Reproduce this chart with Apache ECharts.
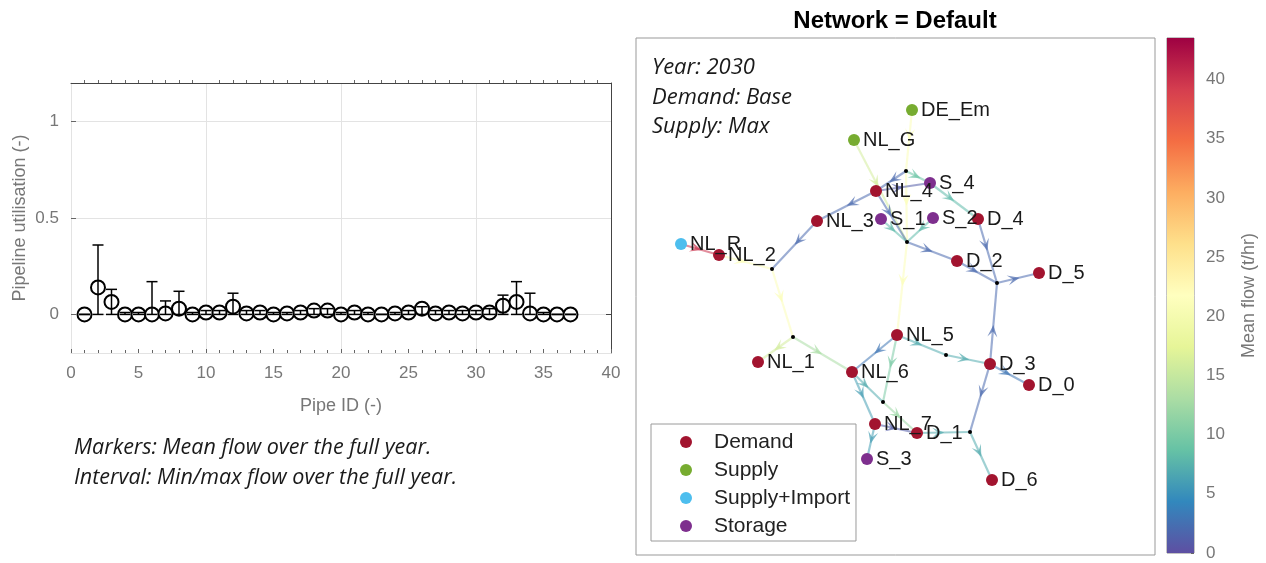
<!DOCTYPE html>
<html>
<head>
<meta charset="utf-8">
<script src="https://cdn.jsdelivr.net/npm/echarts@6/dist/echarts.min.js"></script>
<style>
  html, body { margin: 0; padding: 0; background: #fff; }
  #main { width: 1266px; height: 563px; }
</style>
</head>
<body>
<div id="main"></div>
<script>
// ---- left panel: pipeline utilisation per pipe
var pipeIds  = [1,2,3,4,5,6,7,8,9,10,11,12,13,14,15,16,17,18,19,20,21,22,23,24,25,26,27,28,29,30,31,32,33,34,35,36,37];
var meanUtil = [0,0.14,0.065,0,0,0,0.005,0.03,0,0.01,0.01,0.04,0.005,0.01,0,0.005,0.01,0.02,0.02,0,0.01,0,0,0.005,0.01,0.03,0.005,0.01,0.005,0.01,0.01,0.045,0.065,0.005,0,0,0];
var minUtil  = [0,0,0,0,0,0,0,0,0,0,0,0,0,0,0,0,0,0,0,0,0,0,0,0,0,0,0,0,0,0,0,0,0,0,0,0,0];
var maxUtil  = [0,0.36,0.13,0.01,0.01,0.17,0.07,0.12,0.01,0.02,0.02,0.11,0.02,0.02,0.01,0.01,0.02,0.03,0.03,0.01,0.02,0.01,0,0.01,0.02,0.04,0.02,0.02,0.02,0.02,0.03,0.1,0.17,0.11,0.01,0,0];

// ---- right panel: network (layout units)
var nodeNames = ['DE_Em','NL_G','NL_4','S_4','NL_3','S_1','S_2','D_4','NL_R','NL_2','D_2','D_5','NL_5','D_3','NL_1','NL_6','D_0','NL_7','D_1','S_3','D_6',
                 'J1','J2','J3','J4','J5','J6','J7','J8'];
var nodeType  = ['Supply','Supply','Demand','Storage','Demand','Storage','Storage','Demand','Supply+Import','Demand','Demand','Demand','Demand','Demand','Demand','Demand','Demand','Demand','Demand','Storage','Demand',
                 'Junction','Junction','Junction','Junction','Junction','Junction','Junction','Junction'];
var nodeX = [27.6,21.8,24.0,29.4,18.1,24.5,29.7,34.2,4.5,8.3,32.1,40.3,26.1,35.4,12.2,21.6,39.3,23.9,28.1,23.1,35.6, 27.0,27.1,13.6,36.1,15.7,31.0,24.7,33.4];
var nodeY = [44.5,41.5,36.4,37.2,33.4,33.6,33.7,33.6,31.1,30.0,29.4,28.2,22.0,19.1,19.3,18.3,17.0,13.1,12.2,9.6,7.5, 38.4,31.3,28.6,27.2,21.8,20.0,15.3,12.3];

var edgeFrom = ['DE_Em','J1','NL_G','J1','J1','NL_4','NL_4','NL_4','S_1','S_2','S_4','D_4','J2','D_2','J4','D_3','D_3','D_3','J8','D_1','NL_5','J6','NL_5','NL_5','J7','NL_6','NL_6','NL_7','NL_7','J2','NL_R','NL_2','NL_3','J3','J5','J5'];
var edgeTo   = ['J1','J2','J2','S_4','NL_4','NL_3','S_4','J2','J2','J2','D_4','J4','D_2','J4','D_5','J4','D_0','J8','D_6','J8','J6','D_3','NL_6','J7','D_1','NL_7','J7','S_3','D_1','NL_5','NL_2','J3','J3','J5','NL_1','NL_6'];
var edgeFlow = [21,21,16,9,2,2,1,2,8,8,8,2,2,2,2,2,3,2,7,7,7,7,3,10,12,6,7,6,1,21,40,21,2,21,16,13];

var typeNames  = ['Demand','Supply','Supply+Import','Storage'];
var typeColors = ['#a2142f','#77ac30','#4dbeee','#7e2f8e'];
var flowColors = ['#5e4fa2','#3288bd','#66c2a5','#abdda4','#e6f598','#ffffbf','#fee08b','#fdae61','#f46d43','#d53e4f','#9e0142'];
var flowMax = 43.5;

var chart = echarts.init(document.getElementById('main'));

var labelFont = 'Liberation Sans';
var gridGray = '#e3e3e3';

function nodeIndex(name) { return nodeNames.indexOf(name); }

var edgeData = edgeFrom.map(function (f, i) {
  var a = nodeIndex(f), b = nodeIndex(edgeTo[i]);
  return [nodeX[a], nodeY[a], nodeX[b], nodeY[b], edgeFlow[i]];
});

var nodeSeries = typeNames.map(function (t, k) {
  var pts = [];
  nodeNames.forEach(function (n, i) {
    if (nodeType[i] === t) pts.push({ name: n, value: [nodeX[i], nodeY[i]] });
  });
  return {
    name: t, type: 'scatter', xAxisIndex: 2, yAxisIndex: 2,
    symbol: 'circle', symbolSize: 12, z: 5,
    itemStyle: { color: typeColors[k], opacity: 1 },
    label: { show: true, position: 'right', distance: 3, formatter: '{b}',
             fontFamily: labelFont, fontSize: 20, color: '#1a1a1a' },
    data: pts
  };
});

var junctionPts = [];
nodeNames.forEach(function (n, i) {
  if (nodeType[i] === 'Junction') junctionPts.push([nodeX[i], nodeY[i]]);
});

var stops = flowColors.map(function (c, i) {
  return { offset: i / (flowColors.length - 1), color: c };
});

var option = {
  animation: false,
  backgroundColor: '#fff',
  legend: {
    data: typeNames, orient: 'vertical', left: 651, top: 424,
    icon: 'circle', itemWidth: 46, itemHeight: 12, itemGap: 4,
    padding: [6, 6, 3, 29],
    borderColor: '#9a9a9a', borderWidth: 1, backgroundColor: '#fff',
    textStyle: { fontFamily: labelFont, fontSize: 21, color: '#222', lineHeight: 24 }
  },
  visualMap: {
    show: false, type: 'continuous', min: 0, max: flowMax, dimension: 4,
    seriesIndex: 2, inRange: { color: flowColors }
  },
  grid: [
    { left: 71, top: 83, width: 540, height: 270 },
    { left: 636, top: 38, width: 519, height: 517, show: true, borderColor: '#999', borderWidth: 1 },
    { left: 1167, top: 38, width: 27, height: 515, show: true, borderColor: '#888', borderWidth: 1 }
  ],
  xAxis: [
    { gridIndex: 0, type: 'value', min: 0, max: 40, interval: 5, position: 'bottom',
      axisLine: { onZero: false, lineStyle: { color: gridGray } },
      axisTick: { inside: true, length: 4, lineStyle: { color: '#666' } },
      minorTick: { show: true, splitNumber: 5, length: 3, lineStyle: { color: '#666' } },
      axisLabel: { color: '#777', fontFamily: labelFont, fontSize: 17, margin: 12 },
      splitLine: { show: false },
      name: 'Pipe ID (-)', nameLocation: 'middle', nameGap: 44,
      nameTextStyle: { color: '#777', fontFamily: labelFont, fontSize: 18 } },
    { gridIndex: 0, type: 'value', min: 0, max: 40, interval: 10, position: 'top',
      axisLine: { onZero: false, lineStyle: { color: '#444' } },
      axisTick: { show: false },
      minorTick: { show: true, splitNumber: 10, length: 3, lineStyle: { color: '#666' } },
      axisLabel: { show: false },
      splitLine: { show: true, lineStyle: { color: gridGray } } },
    { gridIndex: 1, type: 'value', min: 0, max: 51.9, show: false },
    { gridIndex: 2, type: 'category', data: ['c'], show: false }
  ],
  yAxis: [
    { gridIndex: 0, type: 'value', min: -0.2, max: 1.2,
      axisLine: { show: true, onZero: false, lineStyle: { color: gridGray } },
      axisTick: { show: true, inside: true, length: 5, customValues: [0, 0.5, 1], lineStyle: { color: '#666' } },
      axisLabel: { customValues: [0, 0.5, 1], color: '#777', fontFamily: labelFont, fontSize: 17, margin: 12 },
      splitLine: { show: true, lineStyle: { color: gridGray } },
      name: 'Pipeline utilisation (-)', nameLocation: 'middle', nameGap: 42, nameRotate: 90,
      nameTextStyle: { color: '#777', fontFamily: labelFont, fontSize: 18 } },
    { gridIndex: 0, type: 'value', min: -0.2, max: 1.2, position: 'right',
      axisLine: { show: true, onZero: false, lineStyle: { color: '#444' } },
      axisTick: { show: true, inside: true, length: 5, customValues: [0], lineStyle: { color: '#444' } },
      axisLabel: { show: false }, splitLine: { show: false } },
    { gridIndex: 1, type: 'value', min: 0, max: 51.7, show: false },
    { gridIndex: 2, type: 'value', min: 0, max: flowMax, interval: 5, position: 'right',
      axisLine: { show: false },
      axisTick: { show: true, inside: true, length: 3, lineStyle: { color: '#666' } },
      axisLabel: { color: '#777', fontFamily: labelFont, fontSize: 17, margin: 12, showMaxLabel: false },
      splitLine: { show: false },
      name: 'Mean flow (t/hr)', nameLocation: 'middle', nameGap: 46, nameRotate: 90,
      nameTextStyle: { color: '#777', fontFamily: labelFont, fontSize: 18 } }
  ],
  series: [
    { type: 'scatter', xAxisIndex: 0, yAxisIndex: 0, symbol: 'emptyCircle', symbolSize: 14, z: 2,
      itemStyle: { color: '#000', borderWidth: 1.5, opacity: 1 },
      data: pipeIds.map(function (p, i) { return [p, meanUtil[i]]; }) },
    { type: 'custom', xAxisIndex: 0, yAxisIndex: 0, z: 3,
      encode: { x: 0, y: [1, 2] },
      data: pipeIds.map(function (p, i) { return [p, minUtil[i], maxUtil[i]]; }),
      renderItem: function (params, api) {
        var lo = api.coord([api.value(0), api.value(1)]);
        var hi = api.coord([api.value(0), api.value(2)]);
        var w = 5.5, st = { stroke: '#000', lineWidth: 1.5 };
        return { type: 'group', children: [
          { type: 'line', shape: { x1: lo[0], y1: lo[1], x2: hi[0], y2: hi[1] }, style: st },
          { type: 'line', shape: { x1: lo[0] - w, y1: lo[1], x2: lo[0] + w, y2: lo[1] }, style: st },
          { type: 'line', shape: { x1: hi[0] - w, y1: hi[1], x2: hi[0] + w, y2: hi[1] }, style: st }
        ] };
      } },
    { type: 'custom', xAxisIndex: 2, yAxisIndex: 2, z: 1,
      encode: { x: [0, 2], y: [1, 3] },
      data: edgeData,
      renderItem: function (params, api) {
        var p1 = api.coord([api.value(0), api.value(1)]);
        var p2 = api.coord([api.value(2), api.value(3)]);
        var c = api.visual('color');
        var dx = p2[0] - p1[0], dy = p2[1] - p1[1];
        var len = Math.sqrt(dx * dx + dy * dy);
        var ux = dx / len, uy = dy / len;
        var t = 0.42, L = 12, W = 5;
        var tip = [p1[0] + dx * t + ux * 5, p1[1] + dy * t + uy * 5];
        var back = [tip[0] - ux * L, tip[1] - uy * L];
        var notch = [tip[0] - ux * L * 0.55, tip[1] - uy * L * 0.55];
        var left = [back[0] - uy * W, back[1] + ux * W];
        var right = [back[0] + uy * W, back[1] - ux * W];
        return { type: 'group', children: [
          { type: 'line', shape: { x1: p1[0], y1: p1[1], x2: p2[0], y2: p2[1] },
            style: { stroke: c, lineWidth: 2.2, opacity: 0.55 } },
          { type: 'polygon', shape: { points: [tip, left, notch, right] },
            style: { fill: c, opacity: 0.7 } }
        ] };
      } }
  ].concat(nodeSeries).concat([
    { type: 'scatter', xAxisIndex: 2, yAxisIndex: 2, symbol: 'circle', symbolSize: 4, z: 4,
      itemStyle: { color: '#000', opacity: 1 }, data: junctionPts },
    { type: 'bar', xAxisIndex: 3, yAxisIndex: 3, barWidth: '100%', silent: true,
      itemStyle: { color: new echarts.graphic.LinearGradient(0, 1, 0, 0, stops) },
      data: [flowMax] }
  ]),
  graphic: [
    { type: 'text', x: 895, y: 21, style: { text: 'Network = Default', align: 'center', verticalAlign: 'middle',
      fontFamily: labelFont, fontWeight: 'bold', fontSize: 24, fill: '#000' } },
    { type: 'text', left: 652, top: 53, style: { text: 'Year: 2030\nDemand: Base\nSupply: Max', lineHeight: 29.5,
      fontFamily: 'Open Sans', fontStyle: 'italic', fontSize: 22, fill: '#1a1a1a' } },
    { type: 'text', left: 74, top: 433, style: { text: 'Markers: Mean flow over the full year.\nInterval: Min/max flow over the full year.', lineHeight: 30,
      fontFamily: 'Open Sans', fontStyle: 'italic', fontSize: 21.5, fill: '#1a1a1a' } }
  ]
};

chart.setOption(option);
</script>
</body>
</html>
